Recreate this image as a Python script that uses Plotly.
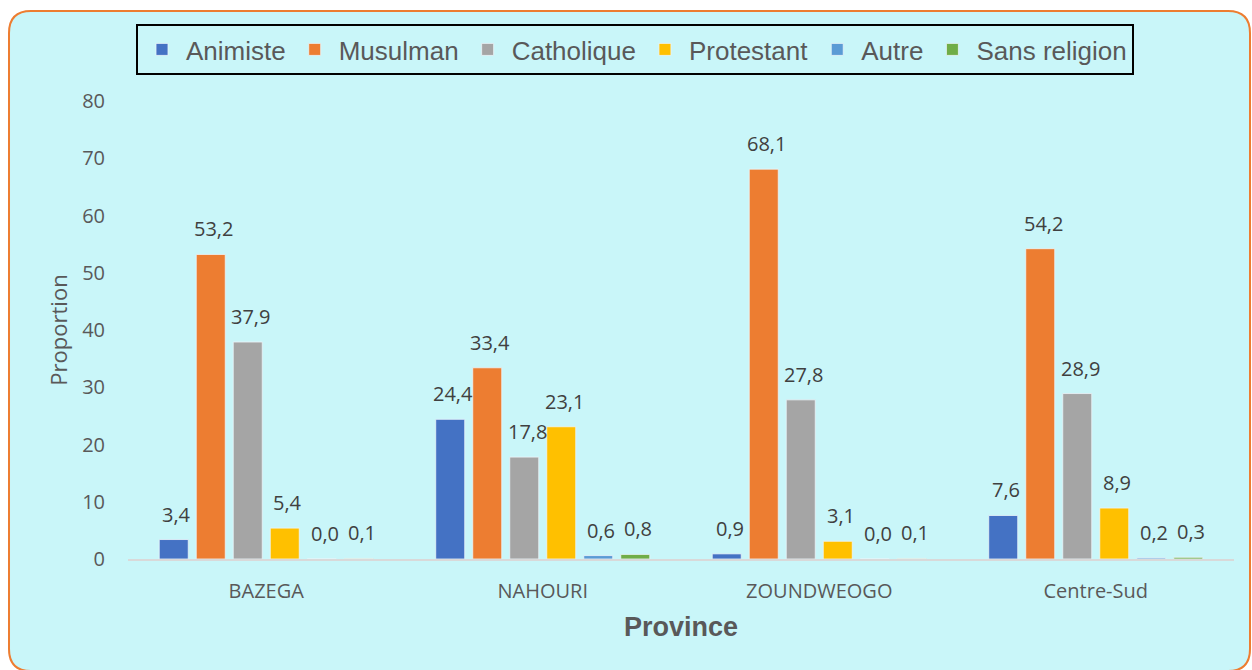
import plotly.graph_objects as go

provinces = ["BAZEGA", "NAHOURI", "ZOUNDWEOGO", "Centre-Sud"]
religions = ["Animiste", "Musulman", "Catholique", "Protestant", "Autre", "Sans religion"]
animiste = [3.4, 24.4, 0.9, 7.6]
musulman = [53.2, 33.4, 68.1, 54.2]
catholique = [37.9, 17.8, 27.8, 28.9]
protestant = [5.4, 23.1, 3.1, 8.9]
autre = [0.0, 0.6, 0.0, 0.2]
sans_religion = [0.1, 0.8, 0.1, 0.3]
y_ticks = [0, 10, 20, 30, 40, 50, 60, 70, 80]

series = [animiste, musulman, catholique, protestant, autre, sans_religion]
colors = ["#4472C4", "#ED7D31", "#A5A5A5", "#FFC000", "#5B9BD5", "#70AD47"]

W, H = 1252, 670
ML, MR, MT, MB = 128, 18, 101, 111
PW, PH = W - ML - MR, H - MT - MB
BARGAP, GROUPGAP = 0.197, 0.216

fig = go.Figure()
for name, vals, col in zip(religions, series, colors):
    fig.add_trace(go.Bar(
        name=name, x=provinces, y=vals,
        marker=dict(color=col, line=dict(color="rgba(235,245,250,0.8)", width=1)),
    ))

# data labels (Excel-style, above bars)
cat_w = PW / len(provinces)
slot = cat_w * (1 - BARGAP) / len(religions)
annotations = []
for i, vals in enumerate(series):
    for p, v in zip(provinces, vals):
        annotations.append(dict(
            x=p, y=v, xref="x", yref="y",
            text=f"{v:.1f}".replace(".", ","),
            showarrow=False, yanchor="bottom",
            xshift=(i - (len(religions) - 1) / 2) * slot + 3, yshift=10,
            font=dict(family="Open Sans", size=20, color="#404040"),
        ))


def px2paper(px, py):
    return (px - ML) / PW, (H - MB - py) / PH


L, R, T, B, r = 9, 1250, 11, 671, 22


def P(x, y):
    a, b = px2paper(x, y)
    return f"{a:.5f},{b:.5f}"


path = (f"M {P(L + r, T)} L {P(R - r, T)} Q {P(R, T)} {P(R, T + r)} "
        f"L {P(R, B - r)} Q {P(R, B)} {P(R - r, B)} "
        f"L {P(L + r, B)} Q {P(L, B)} {P(L, B - r)} "
        f"L {P(L, T + r)} Q {P(L, T)} {P(L + r, T)} Z")

fig.update_layout(
    width=W, height=H,
    margin=dict(l=ML, r=MR, t=MT, b=MB, pad=0),
    paper_bgcolor="white", plot_bgcolor="rgba(0,0,0,0)",
    barmode="group", bargap=BARGAP, bargroupgap=GROUPGAP,
    separators=", ",
    shapes=[dict(type="path", xref="paper", yref="paper", path=path,
                 fillcolor="#C9F6F9", line=dict(color="#ED7D31", width=2), layer="below")],
    annotations=annotations,
    legend=dict(
        orientation="h", x=(635 - ML) / PW, xanchor="center",
        y=(H - MB - 24) / PH, yanchor="top",
        bordercolor="black", borderwidth=2, bgcolor="rgba(0,0,0,0)",
        font=dict(family="Liberation Sans", size=26, color="#595959"),
        traceorder="normal", itemwidth=38,
    ),
    font=dict(family="Open Sans", color="#595959"),
    xaxis=dict(
        showline=True, linecolor="#D9D9D9", linewidth=2,
        ticks="outside", ticklen=13, tickcolor="rgba(0,0,0,0)",
        tickfont=dict(family="Open Sans", size=20, color="#595959"),
        title=dict(text="<b>Province</b>", standoff=14,
                   font=dict(family="Liberation Sans", size=27, color="#595959")),
    ),
    yaxis=dict(
        range=[0, 80], tickvals=y_ticks, showgrid=False, zeroline=False,
        ticks="outside", ticklen=18, tickcolor="rgba(0,0,0,0)",
        tickfont=dict(family="Open Sans", size=20, color="#595959"),
        title=dict(text="Proportion", standoff=8,
                   font=dict(family="Open Sans", size=22, color="#595959")),
    ),
)

fig.write_html("out.html", config={"displayModeBar": False},
               post_script="document.body.style.margin='0';")
